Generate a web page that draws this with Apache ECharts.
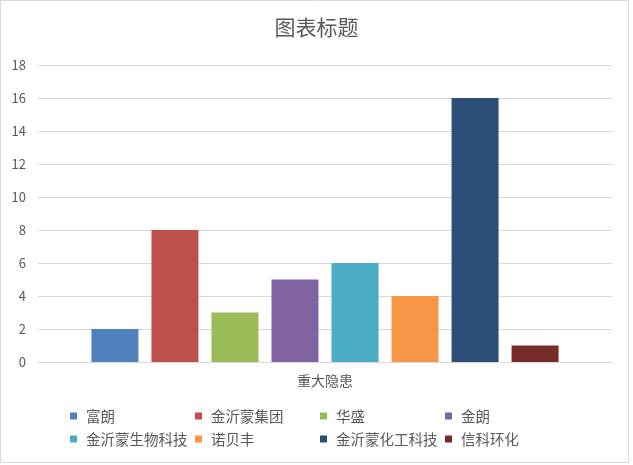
<!DOCTYPE html>
<html>
<head>
<meta charset="utf-8">
<script src="https://cdn.jsdelivr.net/npm/echarts@6/dist/echarts.min.js"></script>
<style>
  html, body { margin: 0; padding: 0; background: #fff; }
  #main { width: 633px; height: 465px; }
</style>
</head>
<body>
<div id="main"></div>
<script>
    var categories = ['重大隐患'];
    var seriesNames = ['富朗', '金沂蒙集团', '华盛', '金朗', '金沂蒙生物科技', '诺贝丰', '金沂蒙化工科技', '信科环化'];
    var seriesValues = [2, 8, 3, 5, 6, 4, 16, 1];
    var colors = ['#4F81BD', '#C0504D', '#9BBB59', '#8064A2', '#4BACC6', '#F79646', '#2C4D75', '#772C2A'];

    var font = '"Noto Sans CJK SC", "Noto Sans", sans-serif';
    var chart = echarts.init(document.getElementById('main'));

    var series = seriesNames.map(function (name, i) {
        return {
            name: name,
            type: 'bar',
            data: [seriesValues[i]],
            barWidth: 47,
            barGap: '27.7%',
            itemStyle: { color: colors[i] }
        };
    });

    var option = {
        animation: false,
        color: colors,
        textStyle: { fontFamily: font },
        title: {
            text: '图表标题',
            left: 'center',
            top: 12,
            textStyle: { color: '#595959', fontSize: 21, fontWeight: 'normal', fontFamily: font }
        },
        graphic: [{
            type: 'rect',
            shape: { x: 0.5, y: 0.5, width: 628, height: 462 },
            style: { fill: 'none', stroke: '#d9d9d9', lineWidth: 1 },
            silent: true
        }],
        legend: {
            data: seriesNames,
            left: 70,
            top: 407,
            width: 500,
            padding: 0,
            orient: 'horizontal',
            icon: 'rect',
            itemWidth: 7,
            itemHeight: 7,
            itemGap: 5,
            textStyle: {
                color: '#595959',
                fontSize: 14.5,
                lineHeight: 18,
                width: 104,
                padding: [0, 0, 0, 4],
                fontFamily: font
            }
        },
        grid: { left: 38, right: 21, top: 65, bottom: 103, containLabel: false },
        xAxis: {
            type: 'category',
            data: categories,
            axisLine: { lineStyle: { color: '#d9d9d9' } },
            axisTick: { show: false },
            axisLabel: { color: '#595959', fontSize: 14, margin: 12 }
        },
        yAxis: {
            type: 'value',
            min: 0,
            max: 18,
            interval: 2,
            axisLine: { show: false },
            axisTick: { show: false },
            axisLabel: { color: '#595959', fontSize: 13, margin: 12 },
            splitLine: { lineStyle: { color: '#d9d9d9' } }
        },
        series: series
    };

    chart.setOption(option);
</script>
</body>
</html>
